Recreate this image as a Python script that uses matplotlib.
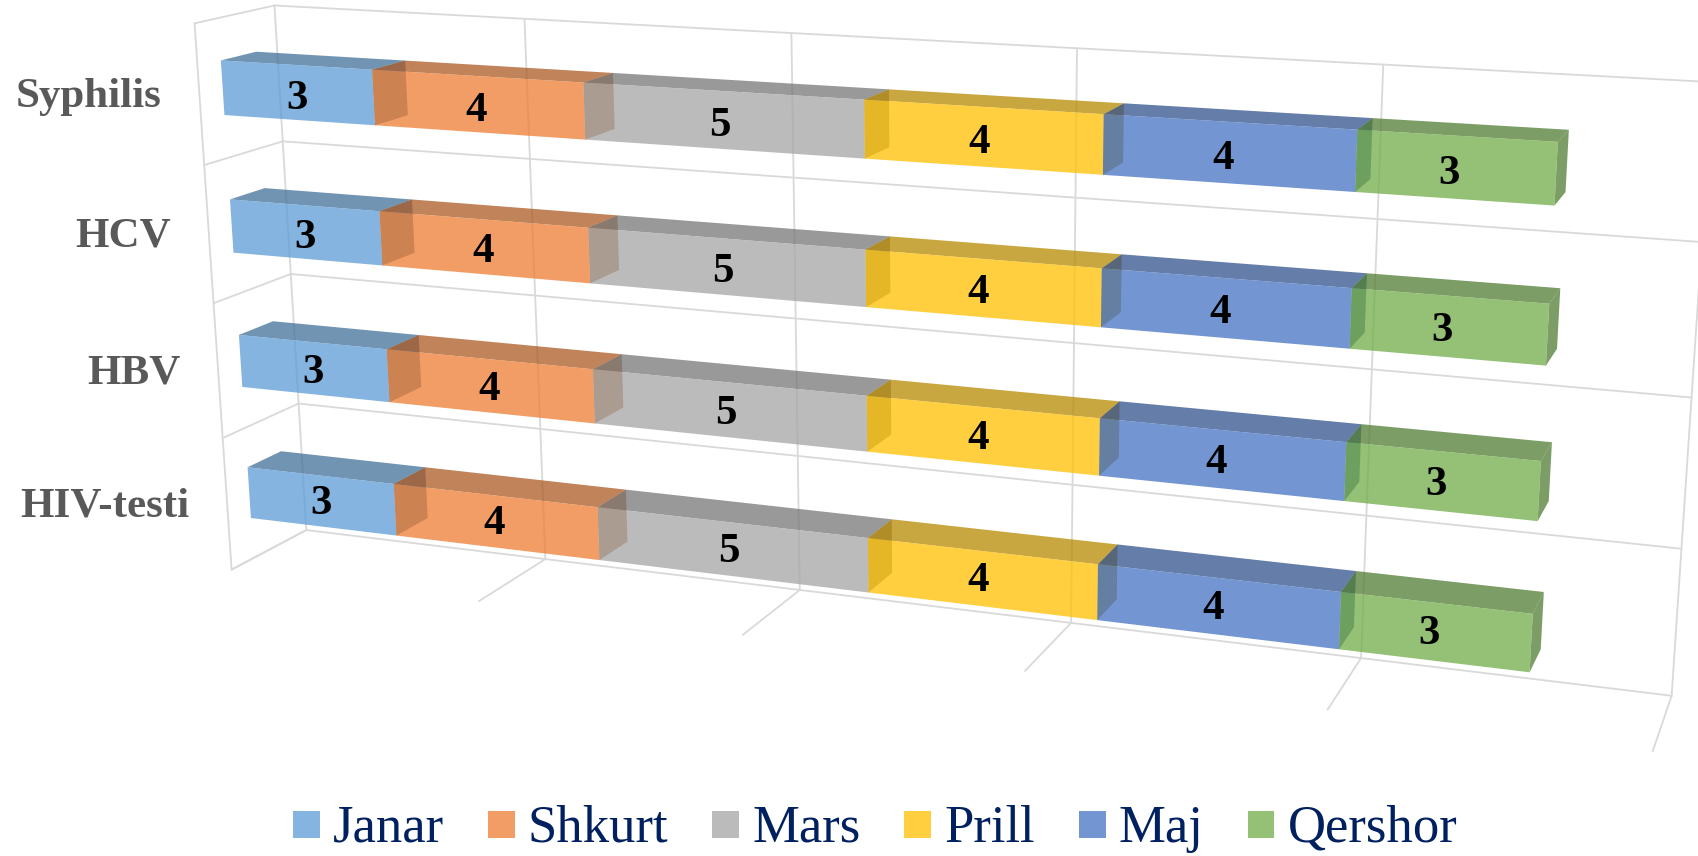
"""Stacked 3-D bars (Excel look) drawn with a fitted perspective projection."""

import matplotlib
matplotlib.use("Agg")
import matplotlib.pyplot as plt
import numpy as np
from matplotlib.colors import to_rgb
from matplotlib.legend_handler import HandlerPatch
from matplotlib.patches import Patch, Polygon, Rectangle

# bottom row first
CATEGORIES = ["HIV-testi", "HBV", "HCV", "Syphilis"]
MONTHS = ["Janar", "Shkurt", "Mars", "Prill", "Maj", "Qershor"]
JANAR = [3, 3, 3, 3]
SHKURT = [4, 4, 4, 4]
MARS = [5, 5, 5, 5]
PRILL = [4, 4, 4, 4]
MAJ = [4, 4, 4, 4]
QERSHOR = [3, 3, 3, 3]
SERIES = [JANAR, SHKURT, MARS, PRILL, MAJ, QERSHOR]
COLORS = ["#5B9BD5", "#ED7D31", "#A5A5A5", "#FFC000", "#4472C4", "#70AD47"]
X_TICKS = [0, 5, 10, 15, 20, 25]

GRID = "#D9D9D9"
ALPHA = 0.75
SHADE = 0.72
ROW_LO, ROW_HI = 0.31, 0.70
DEPTH_LO, DEPTH_HI = 0.285, 0.73

# view calibration: (value, row, depth) -> image pixel
VIEW = [
    (0, 4, 1, 274, 5), (0, 3, 1, 283, 141), (0, 2, 1, 290.5, 274),
    (0, 1, 1, 299.5, 404), (0, 0, 1, 306, 529),
    (5, 0, 1, 545, 559), (10, 0, 1, 799.5, 591), (15, 0, 1, 1070, 624),
    (20, 0, 1, 1362, 657), (25, 0, 1, 1672, 695),
    (5, 4, 1, 525, 19), (10, 4, 1, 791, 33), (15, 4, 1, 1077, 48),
    (20, 4, 1, 1384, 65), (25, 4, 1, 1712, 83),
    (0, 0, 0, 232, 570), (5, 0, 0, 478, 602), (10, 0, 0, 742, 635),
    (15, 0, 0, 1024.5, 671), (20, 0, 0, 1328, 710), (25, 0, 0, 1653, 750),
    (0, 4, 0, 193, 23), (0, 3, 0, 205, 165), (0, 2, 0, 215, 303),
    (0, 1, 0, 223, 438),
]


def fit_view(points):
    """Direct linear fit of a 3x4 projection matrix."""
    rows, rhs = [], []
    for v, c, d, px, py in points:
        rows.append([v, c, d, 1, 0, 0, 0, 0, -px * v, -px * c, -px * d])
        rows.append([0, 0, 0, 0, v, c, d, 1, -py * v, -py * c, -py * d])
        rhs += [px, py]
    sol = np.linalg.lstsq(np.array(rows, float), np.array(rhs, float), rcond=None)[0]
    return np.append(sol, 1.0).reshape(3, 4)


P = fit_view(VIEW)


def project(v, c, d):
    x, y, w = P @ np.array([v, c, d, 1.0])
    return x / w, y / w


def line3d(ax, a, b):
    pa, pb = project(*a), project(*b)
    ax.plot([pa[0], pb[0]], [pa[1], pb[1]], color=GRID, lw=1.3, zorder=1,
            solid_capstyle="round")


def face(ax, corners, color, zorder):
    pts = [project(*p) for p in corners]
    ax.add_patch(Polygon(pts, closed=True, facecolor=color, edgecolor="none",
                         alpha=ALPHA, zorder=zorder))


def draw_frame(ax):
    n_rows = len(CATEGORIES)
    for v in X_TICKS:
        line3d(ax, (v, 0, 1), (v, n_rows, 1))
        line3d(ax, (v, 0, 0), (v, 0, 1))
    for c in range(n_rows + 1):
        line3d(ax, (X_TICKS[0], c, 1), (X_TICKS[-1], c, 1))
        line3d(ax, (0, c, 0), (0, c, 1))
    line3d(ax, (0, 0, 0), (0, n_rows, 0))


def draw_row(ax, row):
    lo, hi = row + ROW_LO, row + ROW_HI
    start = 0
    for i, values in enumerate(SERIES):
        end = start + values[row]
        base = np.array(to_rgb(COLORS[i]))
        dark = tuple(base * SHADE)
        z = 2 + i
        face(ax, [(start, hi, DEPTH_LO), (end, hi, DEPTH_LO),
                  (end, hi, DEPTH_HI), (start, hi, DEPTH_HI)], dark, z)
        face(ax, [(end, lo, DEPTH_LO), (end, hi, DEPTH_LO),
                  (end, hi, DEPTH_HI), (end, lo, DEPTH_HI)], dark, z)
        face(ax, [(start, lo, DEPTH_LO), (end, lo, DEPTH_LO),
                  (end, hi, DEPTH_LO), (start, hi, DEPTH_LO)], COLORS[i], z)
        # labels sit a little left and below the true face centre
        x, y = project((start + end) / 2 * 0.996, (lo + hi) / 2, DEPTH_LO)
        ax.text(x, y + 3 + 1.2 * row, str(values[row]), ha="center", va="center",
                fontsize=31, fontweight="bold", color="black", zorder=20)
        start = end
    x, y = project(0, row + 0.5, 0)
    ax.text(x - 38, y + 2, CATEGORIES[row], ha="right", va="center", fontsize=31,
            fontweight="bold", color="#595959", zorder=20)


def legend_square(legend, orig_handle, xdescent, ydescent, width, height, fontsize):
    return Rectangle((0, 0.075 * fontsize), width, 0.51 * fontsize)


def main():
    plt.rcParams["font.family"] = ["Liberation Serif", "DejaVu Serif"]
    fig = plt.figure(figsize=(16.99, 8.56), dpi=100)
    ax = fig.add_axes([0, 0, 1, 1])
    ax.set_xlim(0, 1699)
    ax.set_ylim(856, 0)
    ax.axis("off")

    draw_frame(ax)
    for row in range(len(CATEGORIES)):
        draw_row(ax, row)

    handles = [Patch(facecolor=c, edgecolor="none", alpha=ALPHA) for c in COLORS]
    ax.legend(handles, MONTHS, loc="center", bbox_to_anchor=(875 / 1699, 1 - 829 / 856),
              ncol=6, frameon=False, fontsize=38, labelcolor="#002060",
              handlelength=0.51, handleheight=0.51, handletextpad=0.25,
              columnspacing=0.83, borderpad=0, borderaxespad=0,
              handler_map={Patch: HandlerPatch(patch_func=legend_square)})

    fig.savefig("out.png", dpi=100)
    plt.close("all")


if __name__ == "__main__":
    main()
